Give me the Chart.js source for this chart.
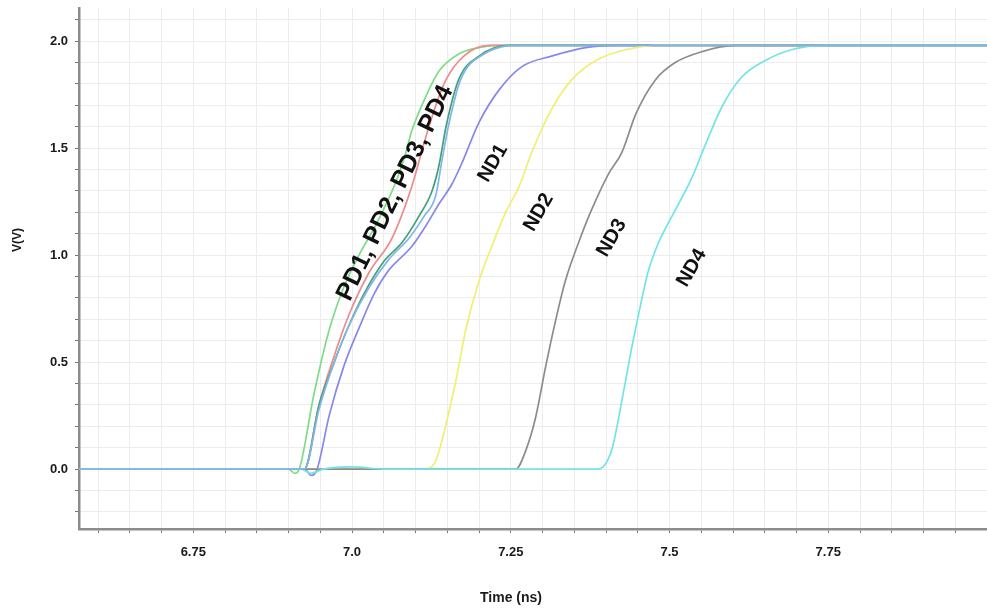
<!DOCTYPE html>
<html>
<head>
<meta charset="utf-8">
<script src="https://cdn.jsdelivr.net/npm/chart.js@4.4.1/dist/chart.umd.min.js"></script>
<style>
  html, body { margin: 0; padding: 0; background: #fff; }
  #wrap { width: 987px; height: 609px; }
</style>
</head>
<body>
<div id="wrap"><canvas id="myChart"></canvas></div>
<script>
"use strict";

// time (ns) / voltage (V)
var pd1T = [6.57, 6.900, 6.910, 6.917, 6.940, 6.964, 6.987, 7.011, 7.039, 7.066, 7.082, 7.094, 7.116, 7.137, 7.168, 7.200, 7.231, 8.0];
var pd1V = [0, 0, -0.02, 0, 0.35, 0.65, 0.85, 1.0, 1.15, 1.32, 1.45, 1.58, 1.74, 1.86, 1.94, 1.97, 1.98, 1.98];

var pd2T = [6.57, 6.915, 6.925, 6.948, 6.972, 6.995, 7.027, 7.063, 7.094, 7.116, 7.132, 7.148, 7.176, 7.215, 8.0];
var pd2V = [0, 0, 0, 0.3, 0.53, 0.72, 0.92, 1.08, 1.32, 1.55, 1.70, 1.82, 1.93, 1.98, 1.98];

var pd3T = [6.57, 6.915, 6.925, 6.948, 6.972, 6.992, 7.019, 7.050, 7.079, 7.105, 7.126, 7.137, 7.148, 7.168, 7.200, 7.247, 8.0];
var pd3V = [0, 0, 0, 0.3, 0.5, 0.65, 0.82, 0.97, 1.06, 1.18, 1.30, 1.42, 1.60, 1.82, 1.93, 1.98, 1.98];

var pd4T = [6.57, 6.915, 6.925, 6.948, 6.972, 6.995, 7.027, 7.058, 7.090, 7.113, 7.132, 7.142, 7.153, 7.171, 7.208, 7.263, 8.0];
var pd4V = [0, 0, 0, 0.28, 0.5, 0.67, 0.85, 0.98, 1.08, 1.18, 1.28, 1.45, 1.62, 1.82, 1.94, 1.98, 1.98];

var nd1T = [6.57, 6.925, 6.936, 6.945, 6.964, 6.987, 7.014, 7.035, 7.058, 7.094, 7.121, 7.137, 7.157, 7.173, 7.200, 7.231, 7.267, 7.314, 7.368, 7.420, 8.0];
var nd1V = [0, 0, -0.03, 0, 0.25, 0.48, 0.68, 0.82, 0.93, 1.04, 1.16, 1.24, 1.33, 1.43, 1.62, 1.77, 1.88, 1.93, 1.97, 1.98, 1.98];

var nd2T = [6.57, 7.116, 7.132, 7.148, 7.164, 7.179, 7.200, 7.220, 7.242, 7.263, 7.283, 7.314, 7.346, 7.384, 7.431, 7.483, 8.0];
var nd2V = [0, 0, 0.04, 0.21, 0.42, 0.65, 0.88, 1.04, 1.20, 1.32, 1.48, 1.68, 1.82, 1.91, 1.96, 1.98, 1.98];

var nd3T = [6.57, 7.258, 7.274, 7.289, 7.305, 7.321, 7.336, 7.357, 7.377, 7.404, 7.425, 7.447, 7.478, 7.509, 7.550, 7.604, 8.0];
var nd3V = [0, 0, 0.09, 0.24, 0.48, 0.70, 0.88, 1.06, 1.21, 1.38, 1.48, 1.66, 1.82, 1.90, 1.95, 1.98, 1.98];

var nd4T = [6.57, 6.920, 6.935, 6.955, 7.000, 7.050, 7.388, 7.409, 7.425, 7.440, 7.456, 7.467, 7.483, 7.509, 7.535, 7.557, 7.582, 7.613, 7.651, 7.692, 7.745, 8.0];
var nd4V = [0, 0, -0.02, 0, 0.01, 0, 0, 0.09, 0.32, 0.56, 0.79, 0.93, 1.06, 1.21, 1.36, 1.52, 1.69, 1.83, 1.91, 1.96, 1.98, 1.98];

var xMajorTicks = [6.75, 7.0, 7.25, 7.5, 7.75];
var xTickLabels = ['6.75', '7.0', '7.25', '7.5', '7.75'];
var yMajorTicks = [0.0, 0.5, 1.0, 1.5, 2.0];
var yTickLabels = ['0.0', '0.5', '1.0', '1.5', '2.0'];

var curveLabels = [
    { text: 'PD1, PD2, PD3, PD4', t: 7.068, v: 1.29, size: 25, angle: -64 },
    { text: 'ND1', t: 7.222, v: 1.43, size: 20, angle: -60 },
    { text: 'ND2', t: 7.294, v: 1.20, size: 20, angle: -60 },
    { text: 'ND3', t: 7.409, v: 1.08, size: 20, angle: -60 },
    { text: 'ND4', t: 7.535, v: 0.94, size: 20, angle: -60 }
];

function toPoints(ts, vs) {
    return ts.map(function (t, i) { return { x: t, y: vs[i] }; });
}

function majorLabel(value, majors, labels) {
    for (var i = 0; i < majors.length; i++) {
        if (Math.abs(majors[i] - value) < 1e-6) return labels[i];
    }
    return '';
}

function series(name, ts, vs, color, order) {
    return {
        label: name,
        data: toPoints(ts, vs),
        borderColor: color,
        borderWidth: 1.7,
        pointRadius: 0,
        fill: false,
        cubicInterpolationMode: 'monotone',
        order: order
    };
}

var labelPlugin = {
    id: 'curveLabels',
    afterDatasetsDraw: function (chart) {
        var ctx = chart.ctx;
        var xs = chart.scales.x, ys = chart.scales.y;
        curveLabels.forEach(function (l) {
            ctx.save();
            ctx.translate(xs.getPixelForValue(l.t), ys.getPixelForValue(l.v));
            ctx.rotate(l.angle * Math.PI / 180);
            ctx.font = 'bold ' + l.size + 'px "Liberation Sans", Arial, sans-serif';
            ctx.textAlign = 'center';
            ctx.textBaseline = 'middle';
            ctx.fillStyle = '#111';
            ctx.fillText(l.text, 0, 0);
            ctx.restore();
        });
    },
    afterDraw: function (chart) {
        var ctx = chart.ctx;
        ctx.save();
        ctx.fillStyle = '#1a1a1a';
        ctx.textAlign = 'center';
        ctx.textBaseline = 'middle';
        ctx.font = 'bold 14px "Liberation Sans", Arial, sans-serif';
        ctx.fillText('Time (ns)', 511, 598);
        ctx.translate(18, 240);
        ctx.rotate(-Math.PI / 2);
        ctx.font = 'bold 12px "Liberation Sans", Arial, sans-serif';
        ctx.fillText('V(V)', 0, 0);
        ctx.restore();
    }
};

var tickFont = { family: '"Liberation Sans", Arial, sans-serif', size: 13, weight: 'bold' };

new Chart(document.getElementById('myChart'), {
    type: 'line',
    data: {
        datasets: [
            series('PD1', pd1T, pd1V, '#7fdc86', 7),
            series('PD2', pd2T, pd2V, '#f08a8a', 6),
            series('PD3', pd3T, pd3V, '#45a07a', 5),
            series('ND1', nd1T, nd1V, '#8787ec', 4),
            series('ND2', nd2T, nd2V, '#f0ef72', 3),
            series('ND3', nd3T, nd3V, '#8c8c8c', 2),
            series('ND4', nd4T, nd4V, '#72e4e4', 1),
            series('PD4', pd4T, pd4V, '#80b6e8', 0)
        ]
    },
    options: {
        responsive: true,
        maintainAspectRatio: false,
        animation: false,
        layout: { padding: { top: 8, left: 0, right: 0, bottom: 0 } },
        plugins: {
            legend: { display: false },
            tooltip: { enabled: false }
        },
        scales: {
            x: {
                type: 'linear',
                min: 6.57,
                max: 8.0,
                afterFit: function (s) {
                    s.height = 80;
                    s.paddingLeft = 0;
                    s.paddingRight = 0;
                },
                border: { color: '#8c8c8c', width: 2.5 },
                grid: { color: '#ececec', tickColor: '#777', tickLength: 4 },
                ticks: {
                    stepSize: 0.05,
                    includeBounds: false,
                    autoSkip: false,
                    maxRotation: 0,
                    padding: 12,
                    color: '#1a1a1a',
                    font: tickFont,
                    callback: function (value) { return majorLabel(value, xMajorTicks, xTickLabels); }
                }
            },
            y: {
                min: -0.28,
                max: 2.155,
                afterFit: function (s) {
                    s.width = 79;
                    s.paddingTop = 0;
                    s.paddingBottom = 0;
                },
                border: { color: '#8c8c8c', width: 2.5 },
                grid: { color: '#ececec', tickColor: '#777', tickLength: 4 },
                ticks: {
                    stepSize: 0.1,
                    includeBounds: false,
                    autoSkip: false,
                    padding: 7,
                    color: '#1a1a1a',
                    font: tickFont,
                    callback: function (value) { return majorLabel(value, yMajorTicks, yTickLabels); }
                }
            }
        }
    },
    plugins: [labelPlugin]
});
</script>
</body>
</html>
